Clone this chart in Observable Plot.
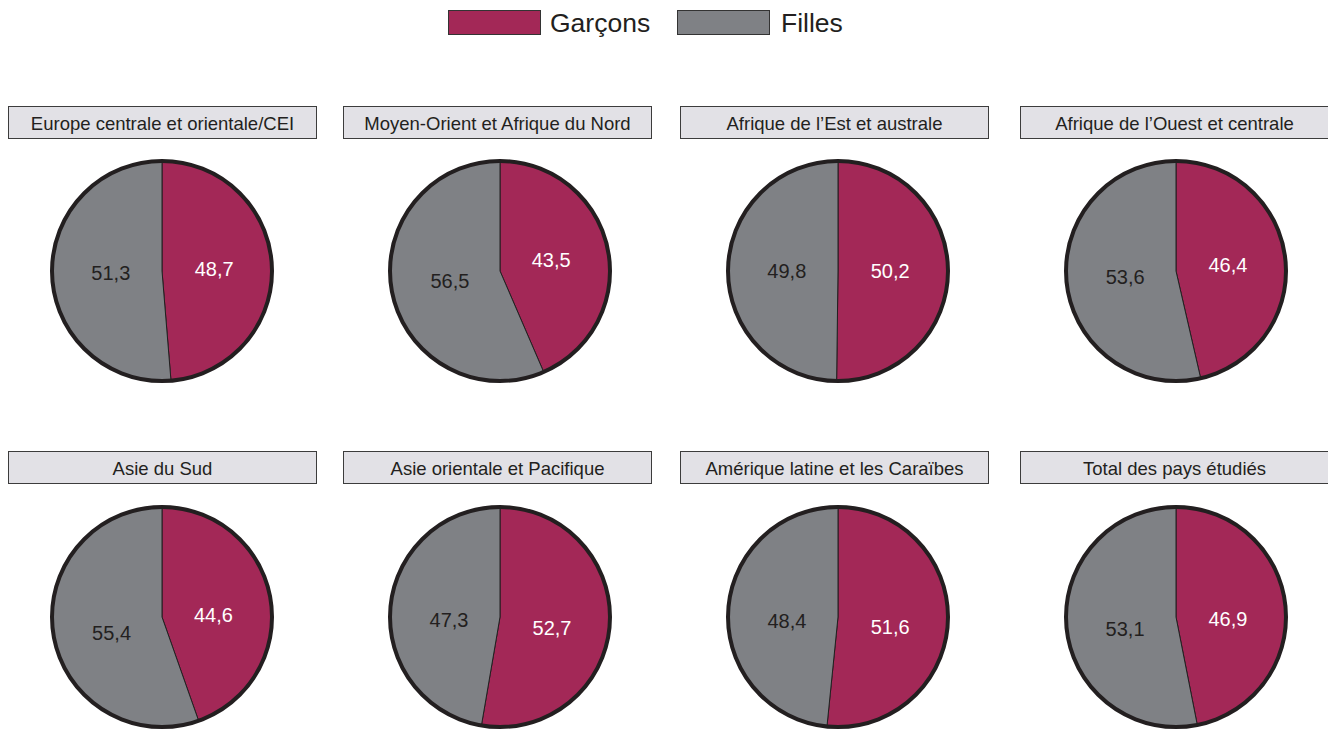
<!DOCTYPE html>
<html>
<head>
<meta charset="utf-8">
<script src="https://cdn.jsdelivr.net/npm/d3@7"></script>
<script src="https://cdn.jsdelivr.net/npm/@observablehq/plot@0.6"></script>
<style>
  html, body { margin: 0; padding: 0; background: #fff; }
  #root { position: relative; width: 1328px; height: 731px; overflow: hidden; font-family: "Liberation Sans", Arial, Helvetica, sans-serif; color: #231F20; }
  .swatch { position: absolute; top: 10px; width: 91px; height: 23px; border: 1.5px solid #333; }
  .ltext { position: absolute; top: 7px; font-size: 26.5px; line-height: 32px; }
  .title { position: absolute; height: 31px; width: 307px; background: #E2E1E6; border: 1.5px solid #3c3c3c; text-align: center; font-size: 18.5px; line-height: 33px; white-space: nowrap; }
  .pie { position: absolute; }
</style>
</head>
<body>
<div id="root"></div>
<script>
const regions = [
  "Europe centrale et orientale/CEI",
  "Moyen-Orient et Afrique du Nord",
  "Afrique de l\u2019Est et australe",
  "Afrique de l\u2019Ouest et centrale",
  "Asie du Sud",
  "Asie orientale et Pacifique",
  "Am\u00e9rique latine et les Cara\u00efbes",
  "Total des pays \u00e9tudi\u00e9s"
];
const garcons = [48.7, 43.5, 50.2, 46.4, 44.6, 52.7, 51.6, 46.9];
const filles  = [51.3, 56.5, 49.8, 53.6, 55.4, 47.3, 48.4, 53.1];
const sexes = ["Gar\u00e7ons", "Filles"];
const colors = ["#A32857", "#7F8185"];
const labelColors = ["#ffffff", "#231F20"];

const color = d3.scaleOrdinal(sexes, colors);
const labelColor = d3.scaleOrdinal(sexes, labelColors);
const fmt = v => v.toFixed(1).replace(".", ",");

const root = document.getElementById("root");

// Legend
const legendLefts = [[448, 550], [677, 781]];
sexes.forEach((s, i) => {
  const sw = document.createElement("div");
  sw.className = "swatch";
  sw.style.left = legendLefts[i][0] + "px";
  sw.style.background = color(s);
  root.appendChild(sw);
  const t = document.createElement("div");
  t.className = "ltext";
  t.style.left = legendLefts[i][1] + "px";
  t.textContent = s;
  root.appendChild(t);
});

// Layout
const centersX = [162, 500, 838, 1176];
const titleLefts = [8, 343, 680, 1020];
const centersY = [271, 617];
const titleTops = [106, 451];
const labelDy = [0, 7];
const size = 240, margin = 10;

regions.forEach((name, i) => {
  const col = i % 4, row = Math.floor(i / 4);
  const title = document.createElement("div");
  title.className = "title";
  title.style.left = titleLefts[col] + "px";
  title.style.top = titleTops[row] + "px";
  title.textContent = name;
  root.appendChild(title);

  const slices = [
    {sex: sexes[0], value: garcons[i]},
    {sex: sexes[1], value: filles[i]}
  ];
  const total = d3.sum(slices, d => d.value);
  let acc = 0;
  const labels = slices.map(d => {
    const mid = (acc + d.value / 2) / total * 2 * Math.PI;
    acc += d.value;
    return {sex: d.sex, text: fmt(d.value), x: Math.sin(mid) * 0.47, y: Math.cos(mid) * 0.47};
  });

  const chart = Plot.plot({
    width: size,
    height: size,
    margin: margin,
    x: {domain: [-1, 1], axis: null},
    y: {domain: [-1, 1], axis: null},
    marks: [
      (index, scales) => {
        const cx = scales.x(0), cy = scales.y(0), r = scales.x(1) - scales.x(0);
        const g = d3.create("svg:g").attr("transform", `translate(${cx},${cy})`);
        const pie = d3.pie().sort(null).value(d => d.value);
        const arc = d3.arc().innerRadius(0).outerRadius(r);
        g.selectAll("path").data(pie(slices)).join("path")
          .attr("d", arc)
          .attr("fill", d => color(d.data.sex))
          .attr("stroke", "#231F20")
          .attr("stroke-width", 1)
          .attr("stroke-linejoin", "round");
        g.append("circle").attr("r", r).attr("fill", "none")
          .attr("stroke", "#231F20").attr("stroke-width", 4);
        return g.node();
      },
      Plot.text(labels, {
        x: "x", y: "y", text: "text",
        fill: d => labelColor(d.sex),
        fontSize: 20,
        dy: labelDy[row],
        fontFamily: "Liberation Sans, Arial, sans-serif"
      })
    ]
  });
  chart.classList.add("pie");
  chart.style.left = (centersX[col] - size / 2) + "px";
  chart.style.top = (centersY[row] - size / 2) + "px";
  chart.style.background = "transparent";
  root.appendChild(chart);
});
</script>
</body>
</html>
